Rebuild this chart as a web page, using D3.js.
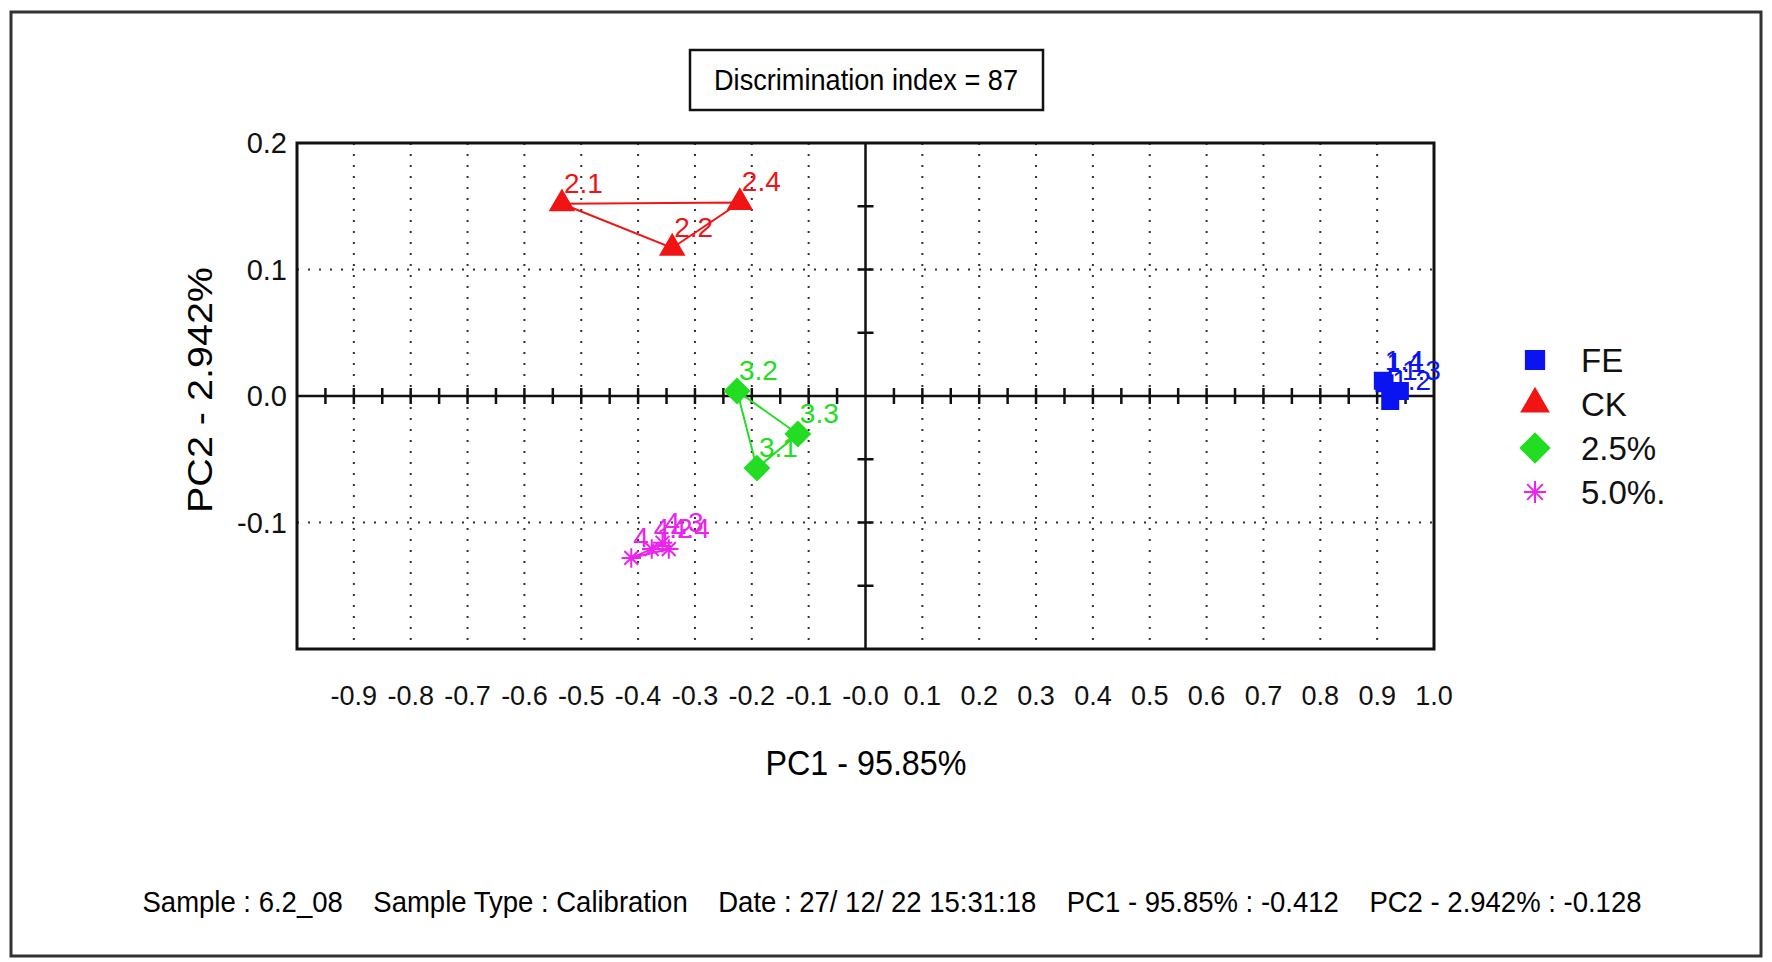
<!DOCTYPE html>
<html>
<head>
<meta charset="utf-8">
<script src="https://cdn.jsdelivr.net/npm/d3@7"></script>
<style>
  body { margin: 0; background: #fff; }
  text { font-family: "Liberation Sans", Arial, sans-serif; }
</style>
</head>
<body>
<div id="chart"></div>
<script>
// series names (legend) and point data
const seriesNames = ["FE", "CK", "2.5%", "5.0%."];

const feLabels = ["1.1", "1.2", "1.3", "1.4"];
const fePC1 = [0.913, 0.923, 0.940, 0.910];
const fePC2 = [0.010, -0.004, 0.004, 0.012];

const ckLabels = ["2.1", "2.2", "2.4"];
const ckPC1 = [-0.534, -0.340, -0.221];
const ckPC2 = [0.152, 0.117, 0.153];

const p25Labels = ["3.1", "3.2", "3.3"];
const p25PC1 = [-0.191, -0.226, -0.119];
const p25PC2 = [-0.057, 0.004, -0.030];

const p50Labels = ["4.1", "4.2", "4.3", "4.4"];
const p50PC1 = [-0.412, -0.376, -0.357, -0.346];
const p50PC2 = [-0.128, -0.121, -0.116, -0.121];

const xTicks = ["-0.9", "-0.8", "-0.7", "-0.6", "-0.5", "-0.4", "-0.3", "-0.2", "-0.1", "-0.0", "0.1", "0.2", "0.3", "0.4", "0.5", "0.6", "0.7", "0.8", "0.9", "1.0"];
const yTicks = ["0.2", "0.1", "0.0", "-0.1"];

const titleText = "Discrimination index = 87";
const xTitle = "PC1 - 95.85%";
const yTitle = "PC2 - 2.942%";
const footerText = "Sample : 6.2_08    Sample Type : Calibration    Date : 27/ 12/ 22 15:31:18    PC1 - 95.85% : -0.412    PC2 - 2.942% : -0.128";

const width = 1772, height = 962;
const margin = { left: 297, top: 143, right: 338, bottom: 313 };
const plotW = width - margin.left - margin.right;
const plotH = height - margin.top - margin.bottom;

const colors = ["#0a14f0", "#f01414", "#22dd22", "#ee22ee"];

// 8-armed star marker
const star = {
  draw(context, size) {
    const r = Math.sqrt(size) / 2;
    for (let i = 0; i < 4; i++) {
      const a = i * Math.PI / 4;
      context.moveTo(-r * Math.cos(a), -r * Math.sin(a));
      context.lineTo(r * Math.cos(a), r * Math.sin(a));
    }
  }
};
const shapes = [
  { type: d3.symbolSquare, size: 256, rotate: 0, fill: true },
  { type: d3.symbolTriangle, size: 230, rotate: 0, fill: true },
  { type: d3.symbolSquare, size: 290, rotate: 45, fill: true },
  { type: star, size: 380, rotate: 0, fill: false }
];

const series = [
  { labels: feLabels, x: fePC1, y: fePC2 },
  { labels: ckLabels, x: ckPC1, y: ckPC2 },
  { labels: p25Labels, x: p25PC1, y: p25PC2 },
  { labels: p50Labels, x: p50PC1, y: p50PC2 }
];

const svg = d3.select("#chart").append("svg")
  .attr("width", width)
  .attr("height", height);

// outer frame
svg.append("rect")
  .attr("x", 11).attr("y", 12)
  .attr("width", 1750).attr("height", 944)
  .attr("fill", "none").attr("stroke", "#333").attr("stroke-width", 3);

// title box
svg.append("rect")
  .attr("x", 690).attr("y", 50)
  .attr("width", 353).attr("height", 60)
  .attr("fill", "#fff").attr("stroke", "#111").attr("stroke-width", 2.5);
svg.append("text")
  .attr("x", 866).attr("y", 90)
  .attr("text-anchor", "middle")
  .attr("font-size", 30)
  .attr("textLength", 304).attr("lengthAdjust", "spacingAndGlyphs")
  .text(titleText);

const x = d3.scaleLinear().domain([-1, 1]).range([0, plotW]);
const y = d3.scaleLinear().domain([-0.2, 0.2]).range([plotH, 0]);

const g = svg.append("g").attr("transform", `translate(${margin.left},${margin.top})`);

// dotted grid
g.selectAll(".vgrid")
  .data(d3.range(-9, 10).filter(d => d !== 0).map(d => d / 10))
  .enter().append("line")
  .attr("x1", d => x(d)).attr("x2", d => x(d))
  .attr("y1", 0).attr("y2", plotH)
  .attr("stroke", "#333").attr("stroke-width", 2)
  .attr("stroke-dasharray", "2,9");
g.selectAll(".hgrid")
  .data([0.1, -0.1])
  .enter().append("line")
  .attr("x1", 0).attr("x2", plotW)
  .attr("y1", d => y(d)).attr("y2", d => y(d))
  .attr("stroke", "#333").attr("stroke-width", 2)
  .attr("stroke-dasharray", "2,9");

// axes through origin
g.append("line")
  .attr("x1", 0).attr("x2", plotW)
  .attr("y1", y(0)).attr("y2", y(0))
  .attr("stroke", "#111").attr("stroke-width", 2.5);
g.append("line")
  .attr("x1", x(0)).attr("x2", x(0))
  .attr("y1", 0).attr("y2", plotH)
  .attr("stroke", "#111").attr("stroke-width", 2.5);

// ticks every 0.05 on both centre axes
g.selectAll(".xtick")
  .data(d3.range(-19, 20).filter(d => d !== 0).map(d => d * 0.05))
  .enter().append("line")
  .attr("x1", d => x(d)).attr("x2", d => x(d))
  .attr("y1", y(0) - 8).attr("y2", y(0) + 8)
  .attr("stroke", "#111").attr("stroke-width", 2.5);
g.selectAll(".ytick")
  .data([-0.15, -0.1, -0.05, 0.05, 0.1, 0.15])
  .enter().append("line")
  .attr("x1", x(0) - 8).attr("x2", x(0) + 8)
  .attr("y1", d => y(d)).attr("y2", d => y(d))
  .attr("stroke", "#111").attr("stroke-width", 2.5);

// plot frame
g.append("rect")
  .attr("width", plotW).attr("height", plotH)
  .attr("fill", "none").attr("stroke", "#111").attr("stroke-width", 3);

// tick labels (hyphen minus, as in the instrument software)
g.selectAll(".xlab")
  .data(xTicks)
  .enter().append("text")
  .attr("x", d => x(+d)).attr("y", 562)
  .attr("text-anchor", "middle")
  .attr("font-size", 27)
  .attr("fill", "#111")
  .text(d => d);
g.selectAll(".ylab")
  .data(yTicks)
  .enter().append("text")
  .attr("x", -10).attr("y", d => y(+d))
  .attr("dy", "0.36em")
  .attr("text-anchor", "end")
  .attr("font-size", 29)
  .attr("fill", "#111")
  .text(d => d);

// axis titles
svg.append("text")
  .attr("x", 866).attr("y", 775)
  .attr("text-anchor", "middle")
  .attr("font-size", 35)
  .attr("textLength", 201).attr("lengthAdjust", "spacingAndGlyphs")
  .text(xTitle);
svg.append("text")
  .attr("transform", "translate(212,390) rotate(-90)")
  .attr("text-anchor", "middle")
  .attr("font-size", 35)
  .attr("textLength", 246).attr("lengthAdjust", "spacingAndGlyphs")
  .text(yTitle);

// series: connecting polygon, markers, labels
series.forEach((s, i) => {
  const pts = s.x.map((v, j) => [x(v), y(s.y[j])]);
  const sg = g.append("g");
  sg.append("path")
    .attr("d", d3.line()(pts) + "Z")
    .attr("fill", "none")
    .attr("stroke", colors[i]).attr("stroke-width", 2);
  const shp = shapes[i];
  sg.selectAll("path.mark")
    .data(pts)
    .enter().append("path")
    .attr("class", "mark")
    .attr("transform", d => `translate(${d[0]},${d[1]}) rotate(${shp.rotate})`)
    .attr("d", d3.symbol().type(shp.type).size(shp.size))
    .attr("fill", shp.fill ? colors[i] : "none")
    .attr("stroke", colors[i]).attr("stroke-width", 2);
  sg.selectAll("text")
    .data(pts)
    .enter().append("text")
    .attr("x", d => d[0] + 2).attr("y", d => d[1] - 11)
    .attr("font-size", 28)
    .attr("fill", colors[i])
    .text((d, j) => s.labels[j]);
});

// legend
const legend = svg.append("g").attr("transform", "translate(1535,360)");
seriesNames.forEach((name, i) => {
  const shp = shapes[i];
  const row = legend.append("g").attr("transform", `translate(0,${i * 44})`);
  row.append("path")
    .attr("transform", `rotate(${shp.rotate})`)
    .attr("d", d3.symbol().type(shp.type).size(shp.size * (i === 2 ? 1.4 : 1.3)))
    .attr("fill", shp.fill ? colors[i] : "none")
    .attr("stroke", colors[i]).attr("stroke-width", 2);
  row.append("text")
    .attr("x", 46).attr("dy", "0.36em")
    .attr("font-size", 33)
    .attr("fill", "#111")
    .text(name);
});

// footer
svg.append("text")
  .attr("x", 892).attr("y", 912)
  .attr("text-anchor", "middle")
  .attr("font-size", 29)
  .attr("textLength", 1499).attr("lengthAdjust", "spacingAndGlyphs")
  .attr("xml:space", "preserve")
  .style("white-space", "pre")
  .text(footerText);
</script>
</body>
</html>
